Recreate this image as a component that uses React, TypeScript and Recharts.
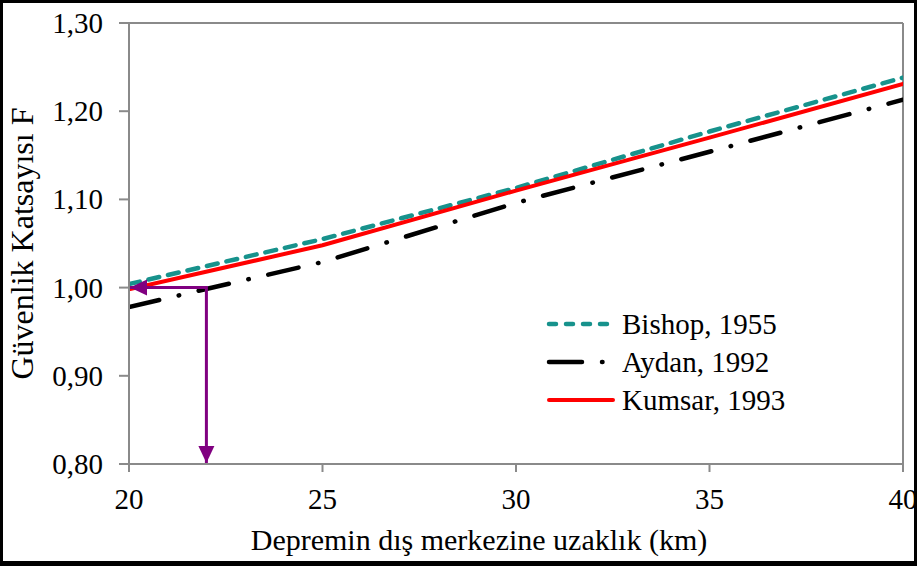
import { Label, Line, LineChart, ReferenceLine, XAxis, YAxis } from 'recharts'

const distances = [20, 25, 30, 35, 40]
const bishop = [1.004, 1.055, 1.113, 1.177, 1.238]
const aydan = [0.978, 1.029, 1.096, 1.154, 1.213]
const kumsar = [0.998, 1.048, 1.110, 1.170, 1.231]

const arrowX = [20, 22, 22]
const arrowY = [1.0, 1.0, 0.8]

const xTicks = [20, 25, 30, 35, 40]
const yTicks = [0.8, 0.9, 1.0, 1.1, 1.2, 1.3]

const FONT = '"Liberation Serif", "Times New Roman", serif'
const AXIS = '#8a8a8a'
const TEAL = '#17928c'
const PURPLE = '#800080'

const SERIES = [
  { key: 'bishop', name: 'Bishop, 1955', values: bishop, color: TEAL, width: 4.5, dash: '11 9', legendDash: '7 10' },
  { key: 'aydan', name: 'Aydan, 1992', values: aydan, color: '#000000', width: 4.5, dash: '31 20 0.5 20', legendDash: '33 20 0.5 20' },
  { key: 'kumsar', name: 'Kumsar, 1993', values: kumsar, color: '#ff0000', width: 4, dash: undefined, legendDash: undefined },
]

const toRows = (values: number[]) => distances.map((x, i) => ({ x, y: values[i] }))
const arrowRows = arrowX.map((x, i) => ({ x, y: arrowY[i] }))

const fmt = (v: number) => v.toFixed(2).replace('.', ',')

function ArrowHead(props: any) {
  const { cx, cy, index } = props
  if (index === 0) {
    return <path key="a0" d={`M${cx + 1},${cy} L${cx + 18},${cy - 8} L${cx + 18},${cy + 8} Z`} fill={PURPLE} />
  }
  if (index === 2) {
    return <path key="a2" d={`M${cx},${cy - 1} L${cx - 8},${cy - 18} L${cx + 8},${cy - 18} Z`} fill={PURPLE} />
  }
  return <g key={`a${index}`} />
}

function XTick({ x, y, payload }: any) {
  return (
    <text x={x} y={y + 37} textAnchor="middle" fontFamily={FONT} fontSize={29} fill="#000">
      {payload.value}
    </text>
  )
}

function YTick({ x, y, payload }: any) {
  return (
    <text x={x - 6} y={y + 10} textAnchor="end" fontFamily={FONT} fontSize={29} fill="#000">
      {fmt(payload.value)}
    </text>
  )
}

function LegendBox() {
  return (
    <div style={{ position: 'absolute', left: 546, top: 305, fontFamily: FONT, fontSize: 29, color: '#000', lineHeight: '38px' }}>
      {SERIES.map((s) => (
        <div key={s.key} style={{ display: 'flex', alignItems: 'center', height: 38 }}>
          <svg width={70} height={10} style={{ marginRight: 6 }}>
            <line x1={3} y1={5} x2={67} y2={5} stroke={s.color} strokeWidth={s.width}
              strokeLinecap="round" strokeDasharray={s.legendDash} />
          </svg>
          <span>{s.name}</span>
        </div>
      ))}
    </div>
  )
}

export default function App() {
  return (
    <div style={{ position: 'absolute', left: 0, top: 0, width: 917, height: 566, background: '#fff', fontFamily: FONT }}>
      <LineChart width={917} height={566} margin={{ top: 23, right: 14, left: 0, bottom: 0 }}>
        <XAxis
          type="number"
          dataKey="x"
          domain={[20, 40]}
          ticks={xTicks}
          allowDataOverflow
          height={102}
          tickSize={8}
          tickMargin={0}
          stroke={AXIS}
          strokeWidth={2}
          tick={<XTick />}
        >
          <Label
            content={({ viewBox }: any) => (
              <text x={viewBox.x + viewBox.width / 2 - 37} y={550} textAnchor="middle"
                fontFamily={FONT} fontSize={30} fill="#000">
                Depremin dış merkezine uzaklık (km)
              </text>
            )}
          />
        </XAxis>
        <YAxis
          type="number"
          domain={[0.8, 1.3]}
          ticks={yTicks}
          allowDataOverflow
          width={129}
          tickSize={10}
          tickMargin={10}
          stroke={AXIS}
          strokeWidth={2}
          tick={<YTick />}
        >
          <Label
            content={({ viewBox }: any) => (
              <text x={0} y={0} transform={`translate(33, ${viewBox.y + viewBox.height / 2}) rotate(-90)`}
                textAnchor="middle" fontFamily={FONT} fontSize={32} fill="#000">
                Güvenlik Katsayısı F
              </text>
            )}
          />
        </YAxis>
        <ReferenceLine y={1.3} stroke={AXIS} strokeWidth={2} />
        <ReferenceLine x={40} stroke={AXIS} strokeWidth={2} />
        {SERIES.map((s) => (
          <Line
            key={s.key}
            data={toRows(s.values)}
            dataKey="y"
            name={s.name}
            type="linear"
            stroke={s.color}
            strokeWidth={s.width}
            strokeDasharray={s.dash}
            strokeLinecap="round"
            dot={false}
            activeDot={false}
            isAnimationActive={false}
          />
        ))}
        <Line
          data={arrowRows}
          dataKey="y"
          name="arrow"
          type="linear"
          stroke={PURPLE}
          strokeWidth={3}
          dot={ArrowHead}
          activeDot={false}
          legendType="none"
          isAnimationActive={false}
        />
      </LineChart>
      <LegendBox />
      <div style={{ position: 'absolute', inset: 0, border: '3px solid #000', borderBottomWidth: 5, pointerEvents: 'none' }} />
    </div>
  )
}
